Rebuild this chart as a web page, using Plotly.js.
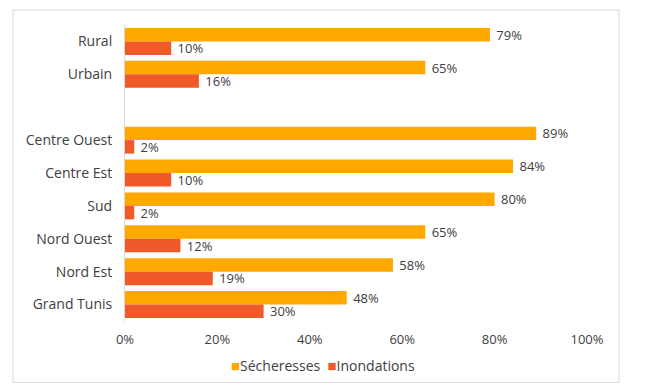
<!DOCTYPE html>
<html>
<head>
<meta charset="utf-8">
<script src="https://cdn.plot.ly/plotly-3.0.1.min.js"></script>
<style>html,body{margin:0;padding:0;background:#fff;}#chart{width:670px;height:386px;}</style>
</head>
<body>
<div id="chart"></div>
<script>
const categories = ["Rural", "Urbain", " ", "Centre Ouest", "Centre Est", "Sud", "Nord Ouest", "Nord Est", "Grand Tunis"];
const secheresses = [79, 65, null, 89, 84, 80, 65, 58, 48];
const inondations = [10, 16, null, 2, 10, 2, 12, 19, 30];
const xTickVals = [0, 20, 40, 60, 80, 100];
const xTickText = ["0%", "20%", "40%", "60%", "80%", "100%"];
const seriesNames = ["Sécheresses", "Inondations"];
const seriesColors = ["#FFA800", "#F05A28"];

const font = "'Open Sans', sans-serif";
const txtColor = "#404040";

const traces = [secheresses, inondations].map((vals, i) => ({
  type: "bar", orientation: "h", name: seriesNames[i],
  y: categories, x: vals,
  marker: {color: seriesColors[i]},
  text: vals.map(v => v === null ? "" : "\u00a0" + v + "%"),
  textposition: "outside", cliponaxis: false, constraintext: "none",
  textfont: {family: font, size: 13, color: txtColor},
  hoverinfo: "none", showlegend: false
}));

const L = 125, R = 587, T = 25, B = 321.5, W = 670, H = 386;
const pw = R - L, ph = B - T;
const px = v => (v - L) / pw;
const py = v => (B - v) / ph;

const legendText = seriesNames.map((n, i) =>
  '<span style="color:' + seriesColors[i] + ';font-size:15px">■</span>' + n).join('\u00a0\u00a0');

const layout = {
  width: W, height: H,
  margin: {l: L, r: W - R, t: T, b: H - B, autoexpand: false},
  paper_bgcolor: "#ffffff", plot_bgcolor: "#ffffff",
  barmode: "group", bargap: 0.18, bargroupgap: 0,
  font: {family: font, size: 13, color: txtColor},
  showlegend: false,
  xaxis: {
    range: [0, 100], tickvals: xTickVals, ticktext: xTickText,
    showgrid: false, zeroline: false, showline: false,
    ticks: "outside", ticklen: 6, tickcolor: "rgba(0,0,0,0)",
    tickfont: {family: font, size: 13, color: txtColor}
  },
  yaxis: {
    type: "category", categoryorder: "array", categoryarray: categories,
    autorange: "reversed",
    showgrid: false, zeroline: false, showline: true, linecolor: "#d9d9d9", linewidth: 1,
    ticks: "outside", ticklen: 9, tickcolor: "rgba(0,0,0,0)",
    tickfont: {family: font, size: 14, color: txtColor}
  },
  annotations: [
    {xref: "paper", yref: "paper", x: px(323), y: py(366), xanchor: "center", yanchor: "middle",
     text: legendText, showarrow: false, font: {family: font, size: 14, color: txtColor}}
  ],
  shapes: [
    {type: "rect", xref: "paper", yref: "paper", x0: px(13), x1: px(619), y0: py(383), y1: py(10),
     line: {color: "#d9d9d9", width: 1}, fillcolor: "rgba(0,0,0,0)", layer: "below"}
  ]
};

Plotly.newPlot("chart", traces, layout, {displayModeBar: false, staticPlot: true});
</script>
</body>
</html>
